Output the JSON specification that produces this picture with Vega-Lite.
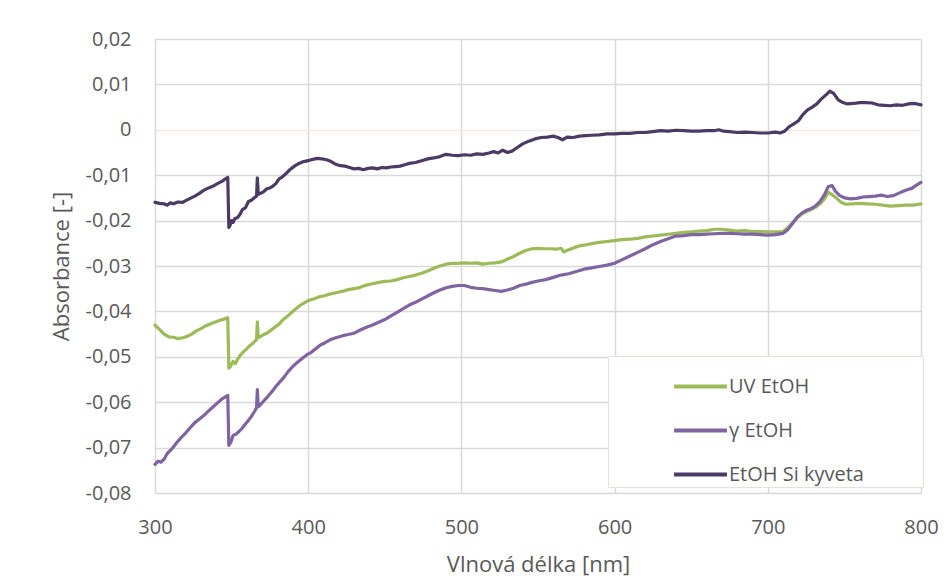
{
  "$schema": "https://vega.github.io/schema/vega-lite/v6.json",
  "width": 766,
  "height": 454,
  "autosize": {"type": "none"},
  "padding": {"left": 155, "top": 39, "right": 31, "bottom": 83},
  "background": "white",
  "config": {
    "locale": {"number": {"decimal": ",", "thousands": " ", "grouping": [3], "currency": ["", ""], "minus": "-"}},
    "view": {"stroke": null},
    "font": "Open Sans"
  },
  "data": {"values": [
{"s":"UV EtOH","nm":300,"a":-0.0430},{"s":"UV EtOH","nm":303,"a":-0.0440},{"s":"UV EtOH","nm":306,"a":-0.0450},{"s":"UV EtOH","nm":309,"a":-0.0456},{"s":"UV EtOH","nm":312,"a":-0.0457},{"s":"UV EtOH","nm":315,"a":-0.0460},{"s":"UV EtOH","nm":318,"a":-0.0458},{"s":"UV EtOH","nm":321,"a":-0.0455},{"s":"UV EtOH","nm":324,"a":-0.0450},{"s":"UV EtOH","nm":327,"a":-0.0443},{"s":"UV EtOH","nm":330,"a":-0.0438},{"s":"UV EtOH","nm":333,"a":-0.0432},{"s":"UV EtOH","nm":336,"a":-0.0428},{"s":"UV EtOH","nm":339,"a":-0.0424},{"s":"UV EtOH","nm":342,"a":-0.0420},{"s":"UV EtOH","nm":345,"a":-0.0417},{"s":"UV EtOH","nm":347.5,"a":-0.0414},{"s":"UV EtOH","nm":348.2,"a":-0.0525},{"s":"UV EtOH","nm":349.5,"a":-0.0520},{"s":"UV EtOH","nm":351,"a":-0.0510},{"s":"UV EtOH","nm":352.5,"a":-0.0515},{"s":"UV EtOH","nm":354,"a":-0.0505},{"s":"UV EtOH","nm":356,"a":-0.0495},{"s":"UV EtOH","nm":358,"a":-0.0488},{"s":"UV EtOH","nm":360,"a":-0.0482},{"s":"UV EtOH","nm":362,"a":-0.0475},{"s":"UV EtOH","nm":364,"a":-0.0470},{"s":"UV EtOH","nm":366.3,"a":-0.0462},{"s":"UV EtOH","nm":366.8,"a":-0.0423},{"s":"UV EtOH","nm":367.4,"a":-0.0458},{"s":"UV EtOH","nm":369,"a":-0.0455},{"s":"UV EtOH","nm":371,"a":-0.0451},{"s":"UV EtOH","nm":373,"a":-0.0448},{"s":"UV EtOH","nm":375,"a":-0.0443},{"s":"UV EtOH","nm":377,"a":-0.0438},{"s":"UV EtOH","nm":379,"a":-0.0433},{"s":"UV EtOH","nm":381,"a":-0.0428},{"s":"UV EtOH","nm":383,"a":-0.0420},{"s":"UV EtOH","nm":386,"a":-0.0412},{"s":"UV EtOH","nm":389,"a":-0.0403},{"s":"UV EtOH","nm":392,"a":-0.0394},{"s":"UV EtOH","nm":395,"a":-0.0386},{"s":"UV EtOH","nm":398,"a":-0.0380},{"s":"UV EtOH","nm":401,"a":-0.0375},{"s":"UV EtOH","nm":404,"a":-0.0372},{"s":"UV EtOH","nm":407,"a":-0.0368},{"s":"UV EtOH","nm":410,"a":-0.0366},{"s":"UV EtOH","nm":414,"a":-0.0362},{"s":"UV EtOH","nm":418,"a":-0.0359},{"s":"UV EtOH","nm":422,"a":-0.0356},{"s":"UV EtOH","nm":426,"a":-0.0352},{"s":"UV EtOH","nm":430,"a":-0.0350},{"s":"UV EtOH","nm":434,"a":-0.0347},{"s":"UV EtOH","nm":438,"a":-0.0342},{"s":"UV EtOH","nm":442,"a":-0.0339},{"s":"UV EtOH","nm":446,"a":-0.0336},{"s":"UV EtOH","nm":450,"a":-0.0334},{"s":"UV EtOH","nm":454,"a":-0.0333},{"s":"UV EtOH","nm":458,"a":-0.0330},{"s":"UV EtOH","nm":462,"a":-0.0326},{"s":"UV EtOH","nm":466,"a":-0.0323},{"s":"UV EtOH","nm":470,"a":-0.0320},{"s":"UV EtOH","nm":474,"a":-0.0316},{"s":"UV EtOH","nm":478,"a":-0.0311},{"s":"UV EtOH","nm":482,"a":-0.0305},{"s":"UV EtOH","nm":486,"a":-0.0300},{"s":"UV EtOH","nm":490,"a":-0.0296},{"s":"UV EtOH","nm":494,"a":-0.0294},{"s":"UV EtOH","nm":498,"a":-0.0294},{"s":"UV EtOH","nm":502,"a":-0.0293},{"s":"UV EtOH","nm":506,"a":-0.0294},{"s":"UV EtOH","nm":510,"a":-0.0293},{"s":"UV EtOH","nm":514,"a":-0.0296},{"s":"UV EtOH","nm":518,"a":-0.0294},{"s":"UV EtOH","nm":522,"a":-0.0293},{"s":"UV EtOH","nm":526,"a":-0.0291},{"s":"UV EtOH","nm":530,"a":-0.0285},{"s":"UV EtOH","nm":534,"a":-0.0279},{"s":"UV EtOH","nm":538,"a":-0.0272},{"s":"UV EtOH","nm":542,"a":-0.0266},{"s":"UV EtOH","nm":546,"a":-0.0262},{"s":"UV EtOH","nm":550,"a":-0.0261},{"s":"UV EtOH","nm":554,"a":-0.0262},{"s":"UV EtOH","nm":558,"a":-0.0262},{"s":"UV EtOH","nm":562,"a":-0.0263},{"s":"UV EtOH","nm":565,"a":-0.0261},{"s":"UV EtOH","nm":567,"a":-0.0269},{"s":"UV EtOH","nm":570,"a":-0.0264},{"s":"UV EtOH","nm":574,"a":-0.0259},{"s":"UV EtOH","nm":578,"a":-0.0255},{"s":"UV EtOH","nm":582,"a":-0.0253},{"s":"UV EtOH","nm":586,"a":-0.0250},{"s":"UV EtOH","nm":590,"a":-0.0248},{"s":"UV EtOH","nm":595,"a":-0.0246},{"s":"UV EtOH","nm":600,"a":-0.0244},{"s":"UV EtOH","nm":605,"a":-0.0242},{"s":"UV EtOH","nm":610,"a":-0.0241},{"s":"UV EtOH","nm":615,"a":-0.0239},{"s":"UV EtOH","nm":620,"a":-0.0236},{"s":"UV EtOH","nm":625,"a":-0.0234},{"s":"UV EtOH","nm":630,"a":-0.0232},{"s":"UV EtOH","nm":635,"a":-0.0230},{"s":"UV EtOH","nm":640,"a":-0.0228},{"s":"UV EtOH","nm":645,"a":-0.0226},{"s":"UV EtOH","nm":650,"a":-0.0225},{"s":"UV EtOH","nm":655,"a":-0.0223},{"s":"UV EtOH","nm":660,"a":-0.0222},{"s":"UV EtOH","nm":665,"a":-0.0219},{"s":"UV EtOH","nm":670,"a":-0.0219},{"s":"UV EtOH","nm":675,"a":-0.0221},{"s":"UV EtOH","nm":680,"a":-0.0223},{"s":"UV EtOH","nm":685,"a":-0.0222},{"s":"UV EtOH","nm":690,"a":-0.0224},{"s":"UV EtOH","nm":695,"a":-0.0224},{"s":"UV EtOH","nm":700,"a":-0.0225},{"s":"UV EtOH","nm":705,"a":-0.0225},{"s":"UV EtOH","nm":710,"a":-0.0224},{"s":"UV EtOH","nm":713,"a":-0.0216},{"s":"UV EtOH","nm":716,"a":-0.0205},{"s":"UV EtOH","nm":719,"a":-0.0195},{"s":"UV EtOH","nm":722,"a":-0.0186},{"s":"UV EtOH","nm":725,"a":-0.0180},{"s":"UV EtOH","nm":728,"a":-0.0176},{"s":"UV EtOH","nm":731,"a":-0.0171},{"s":"UV EtOH","nm":734,"a":-0.0163},{"s":"UV EtOH","nm":737,"a":-0.0152},{"s":"UV EtOH","nm":739.5,"a":-0.0138},{"s":"UV EtOH","nm":742,"a":-0.0143},{"s":"UV EtOH","nm":745,"a":-0.0151},{"s":"UV EtOH","nm":748,"a":-0.0160},{"s":"UV EtOH","nm":751,"a":-0.0164},{"s":"UV EtOH","nm":755,"a":-0.0163},{"s":"UV EtOH","nm":760,"a":-0.0162},{"s":"UV EtOH","nm":765,"a":-0.0163},{"s":"UV EtOH","nm":770,"a":-0.0164},{"s":"UV EtOH","nm":775,"a":-0.0166},{"s":"UV EtOH","nm":780,"a":-0.0168},{"s":"UV EtOH","nm":785,"a":-0.0167},{"s":"UV EtOH","nm":790,"a":-0.0166},{"s":"UV EtOH","nm":795,"a":-0.0166},{"s":"UV EtOH","nm":800,"a":-0.0163},
{"s":"γ EtOH","nm":300,"a":-0.0737},{"s":"γ EtOH","nm":302,"a":-0.0730},{"s":"γ EtOH","nm":304,"a":-0.0732},{"s":"γ EtOH","nm":306,"a":-0.0725},{"s":"γ EtOH","nm":308,"a":-0.0713},{"s":"γ EtOH","nm":311,"a":-0.0703},{"s":"γ EtOH","nm":314,"a":-0.0690},{"s":"γ EtOH","nm":317,"a":-0.0678},{"s":"γ EtOH","nm":320,"a":-0.0668},{"s":"γ EtOH","nm":323,"a":-0.0656},{"s":"γ EtOH","nm":326,"a":-0.0645},{"s":"γ EtOH","nm":329,"a":-0.0637},{"s":"γ EtOH","nm":332,"a":-0.0629},{"s":"γ EtOH","nm":335,"a":-0.0619},{"s":"γ EtOH","nm":338,"a":-0.0610},{"s":"γ EtOH","nm":341,"a":-0.0601},{"s":"γ EtOH","nm":344,"a":-0.0592},{"s":"γ EtOH","nm":346,"a":-0.0588},{"s":"γ EtOH","nm":347.5,"a":-0.0585},{"s":"γ EtOH","nm":348.2,"a":-0.0695},{"s":"γ EtOH","nm":349.5,"a":-0.0688},{"s":"γ EtOH","nm":351,"a":-0.0673},{"s":"γ EtOH","nm":353,"a":-0.0670},{"s":"γ EtOH","nm":355,"a":-0.0664},{"s":"γ EtOH","nm":357,"a":-0.0657},{"s":"γ EtOH","nm":359,"a":-0.0648},{"s":"γ EtOH","nm":361,"a":-0.0640},{"s":"γ EtOH","nm":363,"a":-0.0631},{"s":"γ EtOH","nm":365,"a":-0.0620},{"s":"γ EtOH","nm":366.3,"a":-0.0612},{"s":"γ EtOH","nm":366.8,"a":-0.0572},{"s":"γ EtOH","nm":367.4,"a":-0.0610},{"s":"γ EtOH","nm":369,"a":-0.0605},{"s":"γ EtOH","nm":371,"a":-0.0597},{"s":"γ EtOH","nm":373,"a":-0.0590},{"s":"γ EtOH","nm":375,"a":-0.0582},{"s":"γ EtOH","nm":377,"a":-0.0574},{"s":"γ EtOH","nm":379,"a":-0.0565},{"s":"γ EtOH","nm":381,"a":-0.0557},{"s":"γ EtOH","nm":384,"a":-0.0546},{"s":"γ EtOH","nm":387,"a":-0.0532},{"s":"γ EtOH","nm":390,"a":-0.0521},{"s":"γ EtOH","nm":393,"a":-0.0512},{"s":"γ EtOH","nm":396,"a":-0.0504},{"s":"γ EtOH","nm":399,"a":-0.0496},{"s":"γ EtOH","nm":402,"a":-0.0490},{"s":"γ EtOH","nm":405,"a":-0.0482},{"s":"γ EtOH","nm":408,"a":-0.0474},{"s":"γ EtOH","nm":411,"a":-0.0469},{"s":"γ EtOH","nm":414,"a":-0.0463},{"s":"γ EtOH","nm":418,"a":-0.0458},{"s":"γ EtOH","nm":422,"a":-0.0454},{"s":"γ EtOH","nm":426,"a":-0.0451},{"s":"γ EtOH","nm":430,"a":-0.0448},{"s":"γ EtOH","nm":434,"a":-0.0441},{"s":"γ EtOH","nm":438,"a":-0.0435},{"s":"γ EtOH","nm":442,"a":-0.0430},{"s":"γ EtOH","nm":446,"a":-0.0424},{"s":"γ EtOH","nm":450,"a":-0.0418},{"s":"γ EtOH","nm":454,"a":-0.0410},{"s":"γ EtOH","nm":458,"a":-0.0402},{"s":"γ EtOH","nm":462,"a":-0.0394},{"s":"γ EtOH","nm":466,"a":-0.0386},{"s":"γ EtOH","nm":470,"a":-0.0380},{"s":"γ EtOH","nm":474,"a":-0.0373},{"s":"γ EtOH","nm":478,"a":-0.0366},{"s":"γ EtOH","nm":482,"a":-0.0359},{"s":"γ EtOH","nm":486,"a":-0.0353},{"s":"γ EtOH","nm":490,"a":-0.0348},{"s":"γ EtOH","nm":494,"a":-0.0345},{"s":"γ EtOH","nm":498,"a":-0.0343},{"s":"γ EtOH","nm":502,"a":-0.0343},{"s":"γ EtOH","nm":506,"a":-0.0347},{"s":"γ EtOH","nm":510,"a":-0.0349},{"s":"γ EtOH","nm":514,"a":-0.0350},{"s":"γ EtOH","nm":518,"a":-0.0352},{"s":"γ EtOH","nm":522,"a":-0.0354},{"s":"γ EtOH","nm":526,"a":-0.0356},{"s":"γ EtOH","nm":530,"a":-0.0353},{"s":"γ EtOH","nm":534,"a":-0.0349},{"s":"γ EtOH","nm":538,"a":-0.0343},{"s":"γ EtOH","nm":542,"a":-0.0340},{"s":"γ EtOH","nm":546,"a":-0.0336},{"s":"γ EtOH","nm":550,"a":-0.0333},{"s":"γ EtOH","nm":555,"a":-0.0330},{"s":"γ EtOH","nm":560,"a":-0.0325},{"s":"γ EtOH","nm":565,"a":-0.0320},{"s":"γ EtOH","nm":570,"a":-0.0317},{"s":"γ EtOH","nm":575,"a":-0.0312},{"s":"γ EtOH","nm":580,"a":-0.0307},{"s":"γ EtOH","nm":585,"a":-0.0304},{"s":"γ EtOH","nm":590,"a":-0.0301},{"s":"γ EtOH","nm":595,"a":-0.0298},{"s":"γ EtOH","nm":600,"a":-0.0294},{"s":"γ EtOH","nm":605,"a":-0.0286},{"s":"γ EtOH","nm":610,"a":-0.0278},{"s":"γ EtOH","nm":615,"a":-0.0270},{"s":"γ EtOH","nm":620,"a":-0.0262},{"s":"γ EtOH","nm":625,"a":-0.0253},{"s":"γ EtOH","nm":630,"a":-0.0246},{"s":"γ EtOH","nm":635,"a":-0.0240},{"s":"γ EtOH","nm":640,"a":-0.0234},{"s":"γ EtOH","nm":645,"a":-0.0233},{"s":"γ EtOH","nm":650,"a":-0.0231},{"s":"γ EtOH","nm":655,"a":-0.0231},{"s":"γ EtOH","nm":660,"a":-0.0230},{"s":"γ EtOH","nm":665,"a":-0.0229},{"s":"γ EtOH","nm":670,"a":-0.0228},{"s":"γ EtOH","nm":675,"a":-0.0228},{"s":"γ EtOH","nm":680,"a":-0.0229},{"s":"γ EtOH","nm":685,"a":-0.0230},{"s":"γ EtOH","nm":690,"a":-0.0230},{"s":"γ EtOH","nm":695,"a":-0.0231},{"s":"γ EtOH","nm":700,"a":-0.0232},{"s":"γ EtOH","nm":705,"a":-0.0231},{"s":"γ EtOH","nm":710,"a":-0.0228},{"s":"γ EtOH","nm":713,"a":-0.0220},{"s":"γ EtOH","nm":716,"a":-0.0207},{"s":"γ EtOH","nm":719,"a":-0.0193},{"s":"γ EtOH","nm":722,"a":-0.0184},{"s":"γ EtOH","nm":725,"a":-0.0178},{"s":"γ EtOH","nm":728,"a":-0.0174},{"s":"γ EtOH","nm":731,"a":-0.0168},{"s":"γ EtOH","nm":734,"a":-0.0158},{"s":"γ EtOH","nm":737,"a":-0.0143},{"s":"γ EtOH","nm":739.5,"a":-0.0125},{"s":"γ EtOH","nm":742,"a":-0.0123},{"s":"γ EtOH","nm":744,"a":-0.0135},{"s":"γ EtOH","nm":747,"a":-0.0145},{"s":"γ EtOH","nm":750,"a":-0.0150},{"s":"γ EtOH","nm":754,"a":-0.0152},{"s":"γ EtOH","nm":758,"a":-0.0151},{"s":"γ EtOH","nm":762,"a":-0.0148},{"s":"γ EtOH","nm":766,"a":-0.0147},{"s":"γ EtOH","nm":770,"a":-0.0146},{"s":"γ EtOH","nm":774,"a":-0.0144},{"s":"γ EtOH","nm":778,"a":-0.0147},{"s":"γ EtOH","nm":782,"a":-0.0145},{"s":"γ EtOH","nm":786,"a":-0.0139},{"s":"γ EtOH","nm":790,"a":-0.0133},{"s":"γ EtOH","nm":794,"a":-0.0129},{"s":"γ EtOH","nm":797,"a":-0.0122},{"s":"γ EtOH","nm":800,"a":-0.0116},
{"s":"EtOH Si kyveta","nm":300,"a":-0.0160},{"s":"EtOH Si kyveta","nm":303,"a":-0.0162},{"s":"EtOH Si kyveta","nm":306,"a":-0.0163},{"s":"EtOH Si kyveta","nm":308,"a":-0.0166},{"s":"EtOH Si kyveta","nm":310,"a":-0.0161},{"s":"EtOH Si kyveta","nm":312,"a":-0.0163},{"s":"EtOH Si kyveta","nm":315,"a":-0.0159},{"s":"EtOH Si kyveta","nm":318,"a":-0.0160},{"s":"EtOH Si kyveta","nm":320,"a":-0.0156},{"s":"EtOH Si kyveta","nm":323,"a":-0.0151},{"s":"EtOH Si kyveta","nm":326,"a":-0.0146},{"s":"EtOH Si kyveta","nm":329,"a":-0.0140},{"s":"EtOH Si kyveta","nm":332,"a":-0.0133},{"s":"EtOH Si kyveta","nm":335,"a":-0.0128},{"s":"EtOH Si kyveta","nm":338,"a":-0.0124},{"s":"EtOH Si kyveta","nm":341,"a":-0.0118},{"s":"EtOH Si kyveta","nm":344,"a":-0.0113},{"s":"EtOH Si kyveta","nm":346,"a":-0.0108},{"s":"EtOH Si kyveta","nm":347.5,"a":-0.0105},{"s":"EtOH Si kyveta","nm":348.2,"a":-0.0215},{"s":"EtOH Si kyveta","nm":349,"a":-0.0210},{"s":"EtOH Si kyveta","nm":350,"a":-0.0200},{"s":"EtOH Si kyveta","nm":351,"a":-0.0204},{"s":"EtOH Si kyveta","nm":352,"a":-0.0196},{"s":"EtOH Si kyveta","nm":354,"a":-0.0193},{"s":"EtOH Si kyveta","nm":355.5,"a":-0.0186},{"s":"EtOH Si kyveta","nm":357,"a":-0.0176},{"s":"EtOH Si kyveta","nm":359,"a":-0.0172},{"s":"EtOH Si kyveta","nm":361,"a":-0.0158},{"s":"EtOH Si kyveta","nm":363,"a":-0.0155},{"s":"EtOH Si kyveta","nm":365,"a":-0.0149},{"s":"EtOH Si kyveta","nm":366.3,"a":-0.0146},{"s":"EtOH Si kyveta","nm":366.8,"a":-0.0106},{"s":"EtOH Si kyveta","nm":367.4,"a":-0.0142},{"s":"EtOH Si kyveta","nm":369,"a":-0.0140},{"s":"EtOH Si kyveta","nm":371,"a":-0.0136},{"s":"EtOH Si kyveta","nm":373,"a":-0.0130},{"s":"EtOH Si kyveta","nm":375,"a":-0.0128},{"s":"EtOH Si kyveta","nm":377,"a":-0.0124},{"s":"EtOH Si kyveta","nm":379,"a":-0.0118},{"s":"EtOH Si kyveta","nm":381,"a":-0.0108},{"s":"EtOH Si kyveta","nm":383,"a":-0.0104},{"s":"EtOH Si kyveta","nm":385,"a":-0.0098},{"s":"EtOH Si kyveta","nm":388,"a":-0.0088},{"s":"EtOH Si kyveta","nm":391,"a":-0.0080},{"s":"EtOH Si kyveta","nm":394,"a":-0.0074},{"s":"EtOH Si kyveta","nm":397,"a":-0.0070},{"s":"EtOH Si kyveta","nm":400,"a":-0.0068},{"s":"EtOH Si kyveta","nm":403,"a":-0.0065},{"s":"EtOH Si kyveta","nm":406,"a":-0.0063},{"s":"EtOH Si kyveta","nm":409,"a":-0.0064},{"s":"EtOH Si kyveta","nm":412,"a":-0.0066},{"s":"EtOH Si kyveta","nm":415,"a":-0.0070},{"s":"EtOH Si kyveta","nm":418,"a":-0.0076},{"s":"EtOH Si kyveta","nm":421,"a":-0.0079},{"s":"EtOH Si kyveta","nm":424,"a":-0.0080},{"s":"EtOH Si kyveta","nm":427,"a":-0.0083},{"s":"EtOH Si kyveta","nm":430,"a":-0.0086},{"s":"EtOH Si kyveta","nm":433,"a":-0.0085},{"s":"EtOH Si kyveta","nm":436,"a":-0.0088},{"s":"EtOH Si kyveta","nm":439,"a":-0.0085},{"s":"EtOH Si kyveta","nm":442,"a":-0.0084},{"s":"EtOH Si kyveta","nm":445,"a":-0.0086},{"s":"EtOH Si kyveta","nm":448,"a":-0.0083},{"s":"EtOH Si kyveta","nm":451,"a":-0.0084},{"s":"EtOH Si kyveta","nm":454,"a":-0.0082},{"s":"EtOH Si kyveta","nm":457,"a":-0.0081},{"s":"EtOH Si kyveta","nm":460,"a":-0.0080},{"s":"EtOH Si kyveta","nm":463,"a":-0.0077},{"s":"EtOH Si kyveta","nm":466,"a":-0.0074},{"s":"EtOH Si kyveta","nm":470,"a":-0.0072},{"s":"EtOH Si kyveta","nm":474,"a":-0.0068},{"s":"EtOH Si kyveta","nm":478,"a":-0.0064},{"s":"EtOH Si kyveta","nm":482,"a":-0.0062},{"s":"EtOH Si kyveta","nm":486,"a":-0.0059},{"s":"EtOH Si kyveta","nm":490,"a":-0.0054},{"s":"EtOH Si kyveta","nm":494,"a":-0.0056},{"s":"EtOH Si kyveta","nm":498,"a":-0.0057},{"s":"EtOH Si kyveta","nm":502,"a":-0.0055},{"s":"EtOH Si kyveta","nm":506,"a":-0.0056},{"s":"EtOH Si kyveta","nm":510,"a":-0.0053},{"s":"EtOH Si kyveta","nm":514,"a":-0.0054},{"s":"EtOH Si kyveta","nm":518,"a":-0.0051},{"s":"EtOH Si kyveta","nm":521,"a":-0.0048},{"s":"EtOH Si kyveta","nm":524,"a":-0.0051},{"s":"EtOH Si kyveta","nm":527,"a":-0.0045},{"s":"EtOH Si kyveta","nm":530,"a":-0.0050},{"s":"EtOH Si kyveta","nm":533,"a":-0.0047},{"s":"EtOH Si kyveta","nm":536,"a":-0.0040},{"s":"EtOH Si kyveta","nm":540,"a":-0.0031},{"s":"EtOH Si kyveta","nm":544,"a":-0.0025},{"s":"EtOH Si kyveta","nm":548,"a":-0.0020},{"s":"EtOH Si kyveta","nm":552,"a":-0.0017},{"s":"EtOH Si kyveta","nm":556,"a":-0.0016},{"s":"EtOH Si kyveta","nm":560,"a":-0.0014},{"s":"EtOH Si kyveta","nm":563,"a":-0.0017},{"s":"EtOH Si kyveta","nm":566,"a":-0.0022},{"s":"EtOH Si kyveta","nm":569,"a":-0.0016},{"s":"EtOH Si kyveta","nm":573,"a":-0.0017},{"s":"EtOH Si kyveta","nm":577,"a":-0.0014},{"s":"EtOH Si kyveta","nm":581,"a":-0.0013},{"s":"EtOH Si kyveta","nm":585,"a":-0.0012},{"s":"EtOH Si kyveta","nm":590,"a":-0.0011},{"s":"EtOH Si kyveta","nm":595,"a":-0.0009},{"s":"EtOH Si kyveta","nm":600,"a":-0.0009},{"s":"EtOH Si kyveta","nm":605,"a":-0.0008},{"s":"EtOH Si kyveta","nm":610,"a":-0.0008},{"s":"EtOH Si kyveta","nm":615,"a":-0.0006},{"s":"EtOH Si kyveta","nm":620,"a":-0.0006},{"s":"EtOH Si kyveta","nm":625,"a":-0.0004},{"s":"EtOH Si kyveta","nm":630,"a":-0.0002},{"s":"EtOH Si kyveta","nm":635,"a":-0.0003},{"s":"EtOH Si kyveta","nm":640,"a":-0.0001},{"s":"EtOH Si kyveta","nm":645,"a":-0.0002},{"s":"EtOH Si kyveta","nm":650,"a":-0.0003},{"s":"EtOH Si kyveta","nm":655,"a":-0.0003},{"s":"EtOH Si kyveta","nm":660,"a":-0.0002},{"s":"EtOH Si kyveta","nm":665,"a":-0.0002},{"s":"EtOH Si kyveta","nm":668,"a":0.0000},{"s":"EtOH Si kyveta","nm":671,"a":-0.0003},{"s":"EtOH Si kyveta","nm":675,"a":-0.0004},{"s":"EtOH Si kyveta","nm":680,"a":-0.0006},{"s":"EtOH Si kyveta","nm":685,"a":-0.0005},{"s":"EtOH Si kyveta","nm":690,"a":-0.0006},{"s":"EtOH Si kyveta","nm":695,"a":-0.0007},{"s":"EtOH Si kyveta","nm":700,"a":-0.0007},{"s":"EtOH Si kyveta","nm":705,"a":-0.0005},{"s":"EtOH Si kyveta","nm":708,"a":-0.0007},{"s":"EtOH Si kyveta","nm":711,"a":-0.0003},{"s":"EtOH Si kyveta","nm":714,"a":0.0007},{"s":"EtOH Si kyveta","nm":717,"a":0.0013},{"s":"EtOH Si kyveta","nm":720,"a":0.0020},{"s":"EtOH Si kyveta","nm":723,"a":0.0034},{"s":"EtOH Si kyveta","nm":726,"a":0.0044},{"s":"EtOH Si kyveta","nm":729,"a":0.0050},{"s":"EtOH Si kyveta","nm":732,"a":0.0057},{"s":"EtOH Si kyveta","nm":735,"a":0.0068},{"s":"EtOH Si kyveta","nm":738,"a":0.0077},{"s":"EtOH Si kyveta","nm":740.5,"a":0.0085},{"s":"EtOH Si kyveta","nm":743,"a":0.0080},{"s":"EtOH Si kyveta","nm":746,"a":0.0066},{"s":"EtOH Si kyveta","nm":749,"a":0.0060},{"s":"EtOH Si kyveta","nm":752,"a":0.0057},{"s":"EtOH Si kyveta","nm":756,"a":0.0058},{"s":"EtOH Si kyveta","nm":760,"a":0.0060},{"s":"EtOH Si kyveta","nm":764,"a":0.0060},{"s":"EtOH Si kyveta","nm":768,"a":0.0059},{"s":"EtOH Si kyveta","nm":772,"a":0.0055},{"s":"EtOH Si kyveta","nm":776,"a":0.0054},{"s":"EtOH Si kyveta","nm":780,"a":0.0053},{"s":"EtOH Si kyveta","nm":784,"a":0.0055},{"s":"EtOH Si kyveta","nm":788,"a":0.0054},{"s":"EtOH Si kyveta","nm":792,"a":0.0057},{"s":"EtOH Si kyveta","nm":796,"a":0.0058},{"s":"EtOH Si kyveta","nm":800,"a":0.0055}
  ]},
  "mark": {"type": "line", "strokeWidth": 3.2, "strokeJoin": "round", "strokeCap": "round"},
  "encoding": {
    "x": {
      "field": "nm", "type": "quantitative",
      "scale": {"domain": [300, 800], "nice": false, "zero": false},
      "axis": {
        "title": "Vlnová délka [nm]", "values": [300, 400, 500, 600, 700, 800],
        "grid": true, "gridColor": "#d9d9d9", "gridWidth": 1.5,
        "domain": false, "ticks": false, "labelPadding": 24, "labelFlush": false, "labelOverlap": false,
        "labelFont": "Open Sans", "labelFontSize": 20, "labelColor": "#595959",
        "titleFont": "Open Sans", "titleFontSize": 22, "titleFontWeight": "normal", "titleColor": "#595959",
        "titlePadding": 17, "format": "d"
      }
    },
    "y": {
      "field": "a", "type": "quantitative",
      "scale": {"domain": [-0.08, 0.02], "nice": false, "zero": false},
      "axis": {
        "title": "Absorbance [-]", "values": [-0.08, -0.07, -0.06, -0.05, -0.04, -0.03, -0.02, -0.01, 0, 0.01, 0.02],
        "grid": true, "gridColor": {"condition": {"test": "datum.value === 0", "value": "#eeebe2"}, "value": "#d9d9d9"}, "gridWidth": 1.5,
        "domain": false, "ticks": false, "labelPadding": 24, "labelFlush": false, "labelOverlap": false,
        "labelFont": "Open Sans", "labelFontSize": 20, "labelColor": "#595959",
        "format": ".2f", "labelExpr": "datum.value === 0 ? '0' : datum.label",
        "titleFont": "Open Sans", "titleFontSize": 22, "titleFontWeight": "normal", "titleColor": "#595959",
        "titlePadding": 12
      }
    },
    "color": {
      "field": "s", "type": "nominal",
      "scale": {"domain": ["UV EtOH", "γ EtOH", "EtOH Si kyveta"], "range": ["#9bbb59", "#8064a2", "#4b3a63"]},
      "legend": {
        "orient": "none", "legendX": 453, "legendY": 317,
        "title": " ", "titleOrient": "right", "titlePadding": 57,
        "symbolType": "stroke", "symbolStrokeWidth": 4, "symbolSize": 2800,
        "labelFont": "Open Sans", "labelFontSize": 20, "labelColor": "#595959",
        "fillColor": "white", "strokeColor": "#e6e2d8", "padding": 2,
        "rowPadding": 5, "symbolOffset": 62, "labelOffset": 0
      }
    }
  }
}
